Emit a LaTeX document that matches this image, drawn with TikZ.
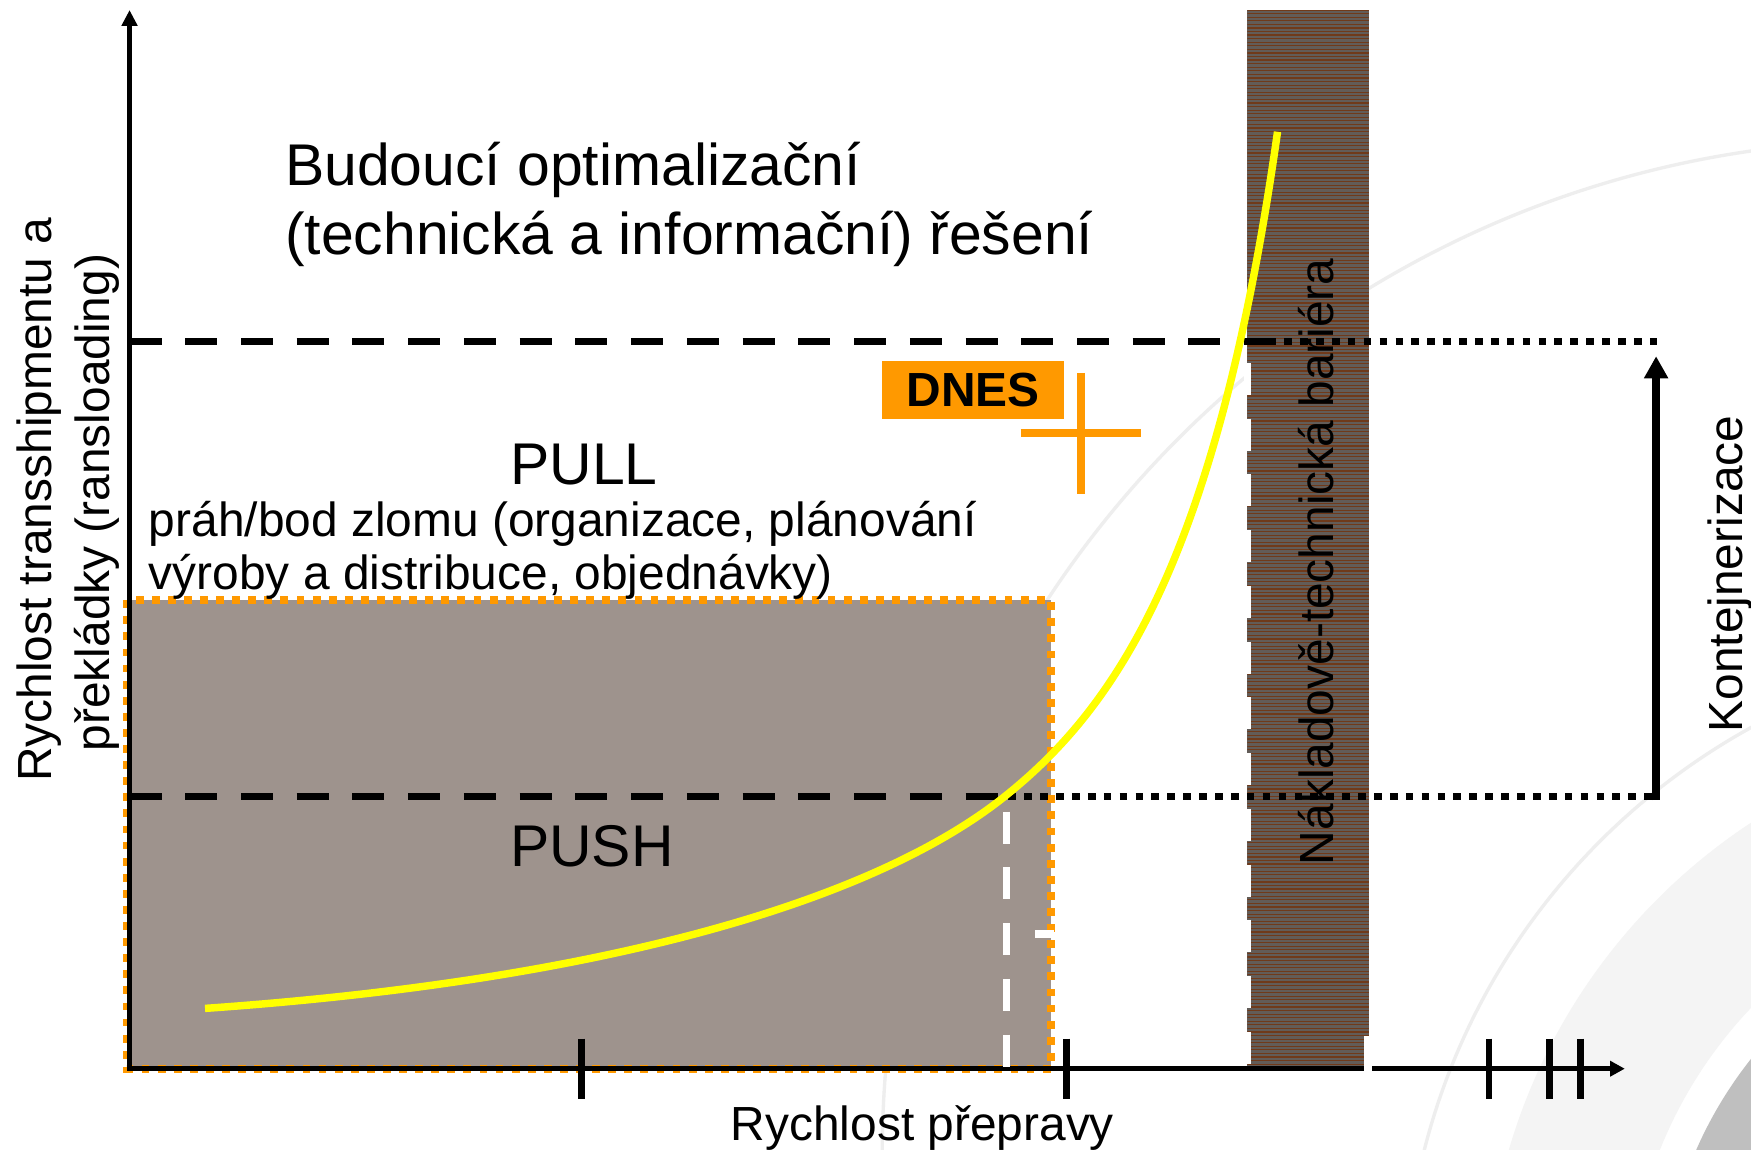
\documentclass[tikz,border=0pt]{standalone}
\usepackage{fontspec}
\setmainfont{Liberation Sans}
\usetikzlibrary{arrows.meta}
\definecolor{dnesorange}{RGB}{255,153,0}
\definecolor{pushfill}{RGB}{158,147,141}
\definecolor{barbase}{RGB}{98,92,88}
\definecolor{barbrown}{RGB}{112,58,26}
\definecolor{curveyellow}{RGB}{255,255,0}
\definecolor{arcgray}{RGB}{238,238,238}
\definecolor{bandgray}{RGB}{244,244,244}
\definecolor{cornergray}{RGB}{191,191,191}
\begin{document}
\begin{tikzpicture}[x=2cm,y=-2cm,
  lblsmall/.style={font=\fontsize{24.4pt}{29pt}\selectfont, inner sep=0pt},
  lblbig/.style={font=\fontsize{30pt}{35pt}\selectfont, inner sep=0pt},
  axisline/.style={line width=2.3pt, black},
  tickmark/.style={line width=3.4pt, black},
  dashline/.style={line width=3.7pt, black, dash pattern=on 16.3pt off 12.1pt},
  dotline/.style={line width=3.7pt, black, dash pattern=on 3.9pt off 4.2pt},
  whitedash/.style={line width=3.6pt, white, dash pattern=on 16.3pt off 12.1pt},
  curveline/.style={line width=3.8pt, curveyellow},
  arcline/.style={line width=1.7pt, arcgray},
  crossline/.style={line width=4pt, dnesorange},
  borderdots/.style={line width=4.2pt, dnesorange, dash pattern=on 4pt off 4.2pt},
]
\useasboundingbox (0,0) rectangle (15.68,10.29);
\fill[white] (0,0) rectangle (15.68,10.29);
% decorative background arcs
\begin{scope}
  \clip (0,0) rectangle (15.68,10.29);
  \fill[bandgray, even odd rule] (18.58,11.78) circle [radius=5.28] (18.58,11.78) circle [radius=4.00];
  \fill[cornergray] (18.58,11.78) circle [radius=3.70];
  \draw[arcline] (18.58,11.78) circle [radius=6.01];
  \draw[arcline] (16.98,10.34) circle [radius=9.08];
\end{scope}
% PUSH region
\fill[pushfill] (1.14,5.375) rectangle (9.41,9.57);
\draw[borderdots] (1.14,5.375) rectangle (9.41,9.57);
% barrier column
\fill[barbase] (11.17,0.09) rectangle (12.26,9.57);
\begin{scope}
  \clip (11.17,0.09) rectangle (12.26,9.57);
  \foreach \i in {0,...,296}
    \draw[barbrown, line width=0.6pt] (11.17,0.09+\i*0.032) -- (12.26,0.09+\i*0.032);
\end{scope}
% dotted and dashed levels
\draw[dotline] (11.50,3.06) -- (14.86,3.06);
\draw[dotline] (9.03,7.13) -- (14.86,7.13);
\draw[dashline] (1.16,3.06) -- (11.48,3.06);
\draw[dashline] (1.16,7.13) -- (9.00,7.13);
% axes
\coordinate (O) at (1.16,9.57);
\coordinate (Ob) at (1.16,9.59);
\coordinate (ytop) at (1.16,0.09);
\coordinate (xend) at (14.55,9.57);
\draw[axisline, -{Triangle[length=8.1pt,width=7.8pt]}] (Ob) -- (ytop);
\draw[axisline, -{Triangle[length=7.5pt,width=7.6pt]}] (O) -- (xend);
\foreach \tx in {5.21,9.55,13.335,13.875,14.155}
  \draw[tickmark] (\tx,9.30) -- (\tx,9.84);
% white dashes
\coordinate (cmid) at (9.00,7.13);
\coordinate (wtop) at (9.01,7.13);
\coordinate (wbot) at (9.01,9.57);
\draw[whitedash, dash phase=20.5pt] (wtop) -- (wbot);
\coordinate (btop) at (11.175,3.25);
\coordinate (bbot) at (11.175,9.57);
\draw[whitedash] (btop) -- (bbot);
\fill[white] (12.215,9.28) rectangle (12.29,9.63);
\draw[white, line width=4pt] (9.27,8.36) -- (9.44,8.36);
% yellow curve
\coordinate (c0) at (1.836,9.03);
\coordinate (c1) at (11.44,1.18);
\draw[curveline] (c0) .. controls (5.336,8.785) and (7.80,8.09) .. (cmid)
  .. controls (10.00,6.33) and (10.90,5.00) .. (c1);
% Kontejnerizace arrow
\coordinate (kb) at (14.83,7.165);
\coordinate (kt) at (14.83,3.19);
\draw[line width=4.2pt, -{Triangle[length=11.3pt,width=11.7pt]}] (kb) -- (kt);
% DNES marker
\node[fill=dnesorange, minimum width=3.26cm, minimum height=1.04cm, inner sep=0pt,
      font=\fontsize{24.4pt}{29pt}\selectfont\bfseries] (dnes) at (8.715,3.49) {DNES};
\coordinate (chl) at (9.14,3.88);
\coordinate (chr) at (10.22,3.88);
\coordinate (cvt) at (9.68,3.34);
\coordinate (cvb) at (9.68,4.42);
\draw[crossline] (chl) -- (chr);
\draw[crossline] (cvt) -- (cvb);
% texts
\node[lblbig, anchor=base west] (t1) at (2.55,1.66) {Budoucí optimalizační};
\node[lblbig, anchor=base west] (t2) at (2.55,2.28) {(technická a informační) řešení};
\node[lblbig, anchor=base] (pull) at (5.23,4.34) {PULL};
\node[lblsmall, anchor=base west] (t3) at (1.33,4.80) {práh/bod zlomu (organizace, plánování};
\node[lblsmall, anchor=base west] (t4) at (1.33,5.28) {výroby a distribuce, objednávky)};
\node[lblbig, anchor=base] (push) at (5.30,7.76) {PUSH};
\node[lblsmall, anchor=base, rotate=90] (y1) at (0.46,4.475) {Rychlost transshipmentu a};
\node[lblsmall, anchor=base, rotate=90] (y2) at (0.98,4.50) {překládky (ransloading)};
\node[lblsmall, anchor=base] (xl) at (8.26,10.21) {Rychlost přepravy};
\node[lblsmall, anchor=base, rotate=90] (bar) at (11.945,5.03) {Nákladově-technická bariéra};
\node[lblsmall, anchor=base, rotate=90] (kont) at (15.60,5.14) {Kontejnerizace};
\end{tikzpicture}
\end{document}
